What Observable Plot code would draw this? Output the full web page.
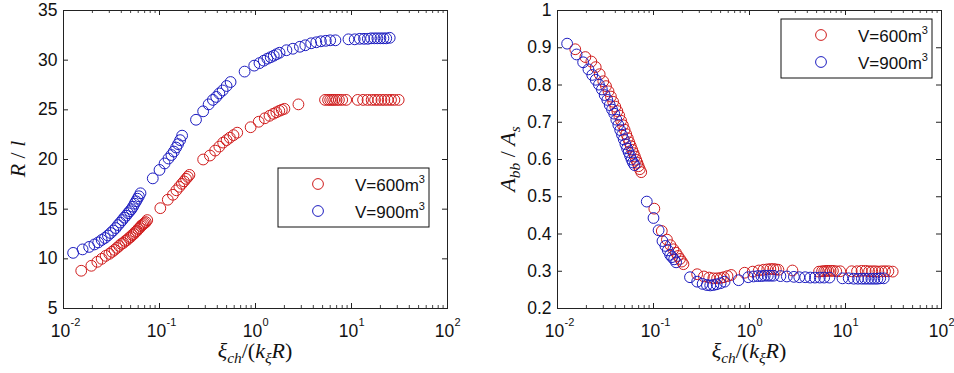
<!DOCTYPE html>
<html>
<head>
<meta charset="utf-8">
<script src="https://cdn.jsdelivr.net/npm/d3@7"></script>
<script src="https://cdn.jsdelivr.net/npm/@observablehq/plot@0.6"></script>
<style>
  body { margin: 0; background: #fff; }
  #wrap { position: relative; width: 954px; height: 373px; }
  #wrap svg { position: absolute; top: 0; overflow: visible; }
</style>
</head>
<body>
<div id="wrap"></div>
<script>
// Simulation results for two balloon volumes: R/l and A_bb/A_s against xi_ch/(k_xi R)
const x600 = [
  0.0153, 0.0195, 0.0225, 0.025, 0.0275, 0.030, 0.032, 0.034, 0.036, 0.038,
  0.040, 0.042, 0.044, 0.046, 0.048, 0.050, 0.052, 0.054, 0.056, 0.058,
  0.060, 0.062, 0.064, 0.066, 0.068, 0.070, 0.072, 0.0745,
  0.102, 0.122, 0.138, 0.150, 0.161, 0.171, 0.180, 0.189, 0.197, 0.205,
  0.285, 0.335, 0.38, 0.42, 0.46, 0.50, 0.54, 0.59, 0.645,
  0.89, 1.08, 1.25, 1.4, 1.53, 1.65, 1.77, 1.88, 2.0, 2.8,
  5.3, 5.7, 6.0, 6.3, 6.6, 7.0, 7.4, 8.0, 8.8,
  11.6, 13.2, 14.7, 16.2, 17.6, 19.0, 20.5, 22.0, 23.8, 25.8, 28.0, 31.0
];
const rl600 = [
  8.8, 9.3, 9.7, 10.0, 10.3, 10.5, 10.7, 10.9, 11.1, 11.3,
  11.5, 11.6, 11.8, 11.9, 12.1, 12.2, 12.4, 12.5, 12.7, 12.8,
  13.0, 13.1, 13.3, 13.4, 13.5, 13.6, 13.7, 13.9,
  15.1, 15.95, 16.45, 16.9, 17.25, 17.55, 17.8, 18.05, 18.25, 18.45,
  20.0, 20.4, 20.9, 21.3, 21.7, 21.95, 22.2, 22.45, 22.7,
  23.25, 23.8, 24.15, 24.4, 24.6, 24.75, 24.9, 25.0, 25.1, 25.55,
  26, 26, 26, 26, 26, 26, 26, 26, 26,
  26, 26, 26, 26, 26, 26, 26, 26, 26, 26, 26, 26
];
const abb600 = [
  0.896, 0.875, 0.863, 0.848, 0.829, 0.810, 0.797, 0.783, 0.769, 0.755,
  0.742, 0.730, 0.718, 0.704, 0.692, 0.680, 0.668, 0.657, 0.646, 0.636,
  0.626, 0.617, 0.608, 0.599, 0.591, 0.582, 0.574, 0.566,
  0.468, 0.408, 0.385, 0.370, 0.359, 0.350, 0.341, 0.333, 0.326, 0.319,
  0.292, 0.286, 0.283, 0.281, 0.281, 0.282, 0.284, 0.287, 0.290,
  0.296, 0.299, 0.302, 0.304, 0.305, 0.306, 0.306, 0.305, 0.304, 0.302,
  0.299, 0.300, 0.300, 0.301, 0.301, 0.301, 0.301, 0.300, 0.300,
  0.300, 0.300, 0.301, 0.301, 0.300, 0.300, 0.300, 0.299, 0.300, 0.300, 0.300, 0.299
];

const x900 = [
  0.0126, 0.0158, 0.0185, 0.021, 0.023, 0.025, 0.027, 0.029, 0.031, 0.033,
  0.035, 0.037, 0.039, 0.041, 0.043, 0.045, 0.047, 0.049, 0.051, 0.053,
  0.055, 0.057, 0.059, 0.061, 0.0634,
  0.0851, 0.100, 0.113, 0.124, 0.133, 0.141, 0.149, 0.156, 0.164, 0.172,
  0.24, 0.285, 0.325, 0.36, 0.39, 0.42, 0.455, 0.50, 0.55,
  0.77, 0.97, 1.1, 1.22, 1.33, 1.44, 1.55, 1.66, 1.78, 2.1,
  2.45, 2.9, 3.3, 3.8, 4.3, 4.8, 5.4, 6.0, 6.8,
  9.3, 10.8, 12.2, 13.5, 14.8, 16.0, 17.3, 18.6, 20.0, 21.5, 23.0, 25.0
];
const rl900 = [
  10.6, 10.95, 11.2, 11.45, 11.65, 11.9, 12.1, 12.35, 12.6, 12.85,
  13.1, 13.4, 13.65, 13.9, 14.15, 14.35, 14.6, 14.8, 15.0, 15.25,
  15.55, 15.8, 16.05, 16.3, 16.6,
  18.1, 18.95, 19.6, 20.1, 20.45, 20.8, 21.2, 21.55, 21.95, 22.4,
  24.0, 24.85, 25.55, 26.0, 26.3, 26.65, 26.95, 27.4, 27.8,
  28.85, 29.45, 29.7, 29.95, 30.15, 30.3, 30.45, 30.6, 30.75, 31.0,
  31.15, 31.35, 31.5, 31.7, 31.8, 31.9, 31.95, 32.0, 32.0,
  32.1, 32.1, 32.15, 32.15, 32.15, 32.2, 32.2, 32.2, 32.2, 32.2, 32.2, 32.25
];
const abb900 = [
  0.911, 0.882, 0.861, 0.842, 0.827, 0.814, 0.801, 0.788, 0.773, 0.760,
  0.746, 0.734, 0.723, 0.707, 0.693, 0.679, 0.666, 0.654, 0.641, 0.630,
  0.620, 0.610, 0.600, 0.592, 0.585,
  0.487, 0.443, 0.410, 0.381, 0.368, 0.356, 0.344, 0.338, 0.332, 0.324,
  0.284, 0.272, 0.266, 0.263, 0.262, 0.263, 0.265, 0.268, 0.272,
  0.276, 0.284, 0.286, 0.287, 0.287, 0.288, 0.288, 0.288, 0.288, 0.287,
  0.286, 0.285, 0.284, 0.284, 0.283, 0.283, 0.283, 0.283, 0.283,
  0.281, 0.281, 0.280, 0.280, 0.280, 0.280, 0.280, 0.280, 0.280, 0.280, 0.281, 0.281
];

const seriesNames = ["V=600m", "V=900m"];
const seriesColors = ["#d01c1c", "#1c1cc0"];

const decades = [0.01, 0.1, 1, 10, 100];
const decadeExponents = ["-2", "-1", "0", "1", "2"];
const rlTicks = [5, 10, 15, 20, 25, 30, 35];
const abbTicks = [0.2, 0.3, 0.4, 0.5, 0.6, 0.7, 0.8, 0.9, 1];

// minor log ticks 2..9 within each decade
const minorTicks = [];
for (let k = 0; k < 4; k++) for (let m = 2; m <= 9; m++) minorTicks.push(m * decades[k]);

const W = 477, H = 373, MT = 10, MB = 65;
const FH = H - MT - MB;

function rows(xs, ys) { return xs.map((x, i) => ({x, y: ys[i]})); }

function addMath(sel, parts, size) {
  let shifted = 0;
  for (const p of parts) {
    const ts = sel.append("tspan").text(p.t)
      .attr("font-style", p.italic ? "italic" : "normal")
      .attr("font-size", p.sub ? size * 0.7 : size);
    const want = p.sub ? 5 : 0;
    if (want !== shifted) { ts.attr("dy", want - shifted); shifted = want; }
  }
}

function panel({left, ml, mr, yDomain, yTicks, yFmt, y600, y900, legend, ylabel}) {
  const fw = W - ml - mr;
  const chart = Plot.plot({
    width: W, height: H,
    marginLeft: ml, marginRight: mr, marginTop: MT, marginBottom: MB,
    style: {background: "transparent", fontFamily: "Liberation Sans, Arial, sans-serif"},
    x: {type: "log", domain: [0.01, 100], axis: null},
    y: {domain: yDomain, axis: null},
    marks: [
      Plot.dot(rows(x600, y600), {x: "x", y: "y", r: 5.4, stroke: seriesColors[0], strokeWidth: 1, fill: "none"}),
      Plot.dot(rows(x900, y900), {x: "x", y: "y", r: 5.4, stroke: seriesColors[1], strokeWidth: 1, fill: "none"}),
      // inward ticks on all four sides
      Plot.tickX(decades, {x: d => d, insetTop: FH - 5, stroke: "#222"}),
      Plot.tickX(decades, {x: d => d, insetBottom: FH - 5, stroke: "#222"}),
      Plot.tickX(minorTicks, {x: d => d, insetTop: FH - 3, stroke: "#444"}),
      Plot.tickX(minorTicks, {x: d => d, insetBottom: FH - 3, stroke: "#444"}),
      Plot.tickY(yTicks, {y: d => d, insetRight: fw - 5, stroke: "#222"}),
      Plot.tickY(yTicks, {y: d => d, insetLeft: fw - 5, stroke: "#222"}),
      Plot.frame({stroke: "#222", strokeWidth: 1}),
      // tick labels
      Plot.text(yTicks, {y: d => d, text: yFmt, frameAnchor: "left", textAnchor: "end", dx: -6, fontSize: 17.5, fill: "#111"}),
      Plot.text(decades, {x: d => d, text: () => "10", frameAnchor: "bottom", lineAnchor: "bottom", dy: 28, dx: -3, fontSize: 17.5, fill: "#111"}),
      Plot.text(decades, {x: d => d, text: (d, i) => decadeExponents[i], frameAnchor: "bottom", lineAnchor: "bottom", dy: 17, dx: 7, textAnchor: "start", fontSize: 11, fill: "#111"})
    ]
  });
  const svg = d3.select(chart);
  svg.style("left", left + "px");

  // axis titles
  const cx = ml + fw / 2;
  const xl = svg.append("text").attr("x", cx).attr("y", H - 15).attr("text-anchor", "middle")
    .attr("font-family", "Liberation Serif, DejaVu Serif, serif").attr("fill", "#111");
  addMath(xl, [
    {t: "ξ", italic: true}, {t: "ch", italic: true, sub: true},
    {t: "/(", italic: false}, {t: "k", italic: true}, {t: "ξ", italic: true, sub: true},
    {t: "R", italic: true}, {t: ")", italic: false}
  ], 22);

  const yl = svg.append("text")
    .attr("transform", `translate(${ylabel.x},${MT + FH / 2}) rotate(-90)`)
    .attr("text-anchor", "middle")
    .attr("font-family", "Liberation Serif, DejaVu Serif, serif").attr("fill", "#111");
  addMath(yl, ylabel.parts, 22);

  // legend
  const g = svg.append("g").attr("transform", `translate(${legend.x},${legend.y})`);
  g.append("rect").attr("width", 151).attr("height", 59).attr("fill", "#fff").attr("stroke", "#111");
  seriesNames.forEach((name, i) => {
    const yy = 16 + i * 27;
    g.append("circle").attr("cx", 40).attr("cy", yy).attr("r", 5.4)
      .attr("fill", "none").attr("stroke", seriesColors[i]);
    const t = g.append("text").attr("x", 77).attr("y", yy + 7).attr("text-anchor", "start")
      .attr("font-family", "Liberation Sans, Arial, sans-serif").attr("font-size", 17).attr("fill", "#111");
    t.append("tspan").text(name);
    t.append("tspan").text("3").attr("font-size", 11).attr("dy", -8);
  });

  document.getElementById("wrap").appendChild(chart);
}

panel({
  left: 0, ml: 63, mr: 30,
  yDomain: [5, 35], yTicks: rlTicks, yFmt: d => String(d),
  y600: rl600, y900: rl900,
  legend: {x: 278, y: 168},
  ylabel: {x: 25, parts: [{t: "R", italic: true}, {t: " / ", italic: false}, {t: "l", italic: true}]}
});

panel({
  left: 477, ml: 80, mr: 13,
  yDomain: [0.2, 1], yTicks: abbTicks, yFmt: d => d === 1 ? "1" : d.toFixed(1),
  y600: abb600, y900: abb900,
  legend: {x: 304, y: 19},
  ylabel: {x: 38, parts: [
    {t: "A", italic: true}, {t: "bb", italic: true, sub: true},
    {t: " / ", italic: false}, {t: "A", italic: true}, {t: "s", italic: true, sub: true}
  ]}
});
</script>
</body>
</html>
